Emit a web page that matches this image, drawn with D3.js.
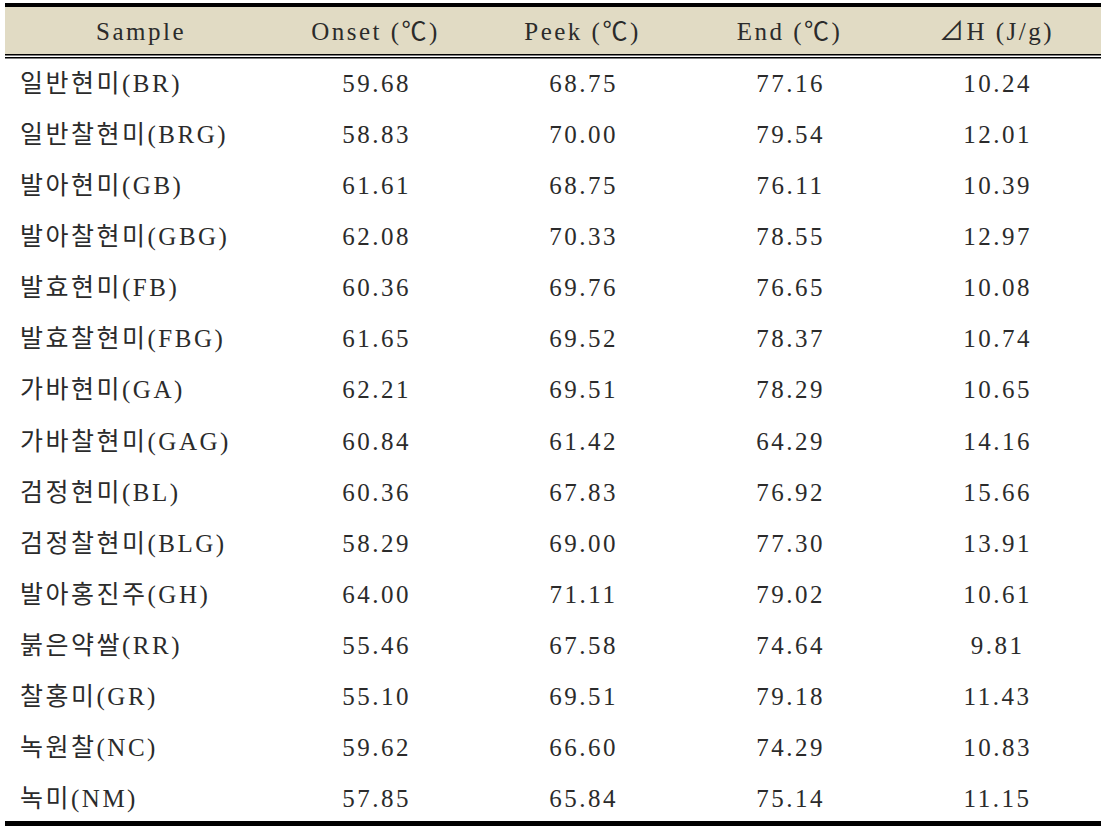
<!DOCTYPE html>
<html>
<head>
<meta charset="utf-8">
<script src="https://cdn.jsdelivr.net/npm/d3@7"></script>
<style>
  body { margin: 0; background: #fff; }
  text { font-family: "Liberation Serif", "Noto Sans CJK KR", serif; fill: #2b2b2b; white-space: pre; letter-spacing: 2.5px; }
</style>
</head>
<body>
<svg></svg>
<script>
const samples = ["일반현미(BR)", "일반찰현미(BRG)", "발아현미(GB)", "발아찰현미(GBG)", "발효현미(FB)",
  "발효찰현미(FBG)", "가바현미(GA)", "가바찰현미(GAG)", "검정현미(BL)", "검정찰현미(BLG)",
  "발아홍진주(GH)", "붉은약쌀(RR)", "찰홍미(GR)", "녹원찰(NC)", "녹미(NM)"];
const onset = [59.68, 58.83, 61.61, 62.08, 60.36, 61.65, 62.21, 60.84, 60.36, 58.29, 64.00, 55.46, 55.10, 59.62, 57.85];
const peek = [68.75, 70.00, 68.75, 70.33, 69.76, 69.52, 69.51, 61.42, 67.83, 69.00, 71.11, 67.58, 69.51, 66.60, 65.84];
const end = [77.16, 79.54, 76.11, 78.55, 76.65, 78.37, 78.29, 64.29, 76.92, 77.30, 79.02, 74.64, 79.18, 74.29, 75.14];
const deltaH = [10.24, 12.01, 10.39, 12.97, 10.08, 10.74, 10.65, 14.16, 15.66, 13.91, 10.61, 9.81, 11.43, 10.83, 11.15];
const headers = ["Onset (℃)", "Peek (℃)", "End (℃)", "⊿H (J/g)"];

const width = 1108, height = 831;
const left = 5, right = 1101;
const fmt = d3.format(".2f");

const svg = d3.select("svg").attr("width", width).attr("height", height);

// row and column scales
const y = d3.scaleBand().domain(d3.range(samples.length)).range([58, 824]);
const x = d3.scaleBand().domain(d3.range(headers.length)).range([272, 1100]);

// header background
svg.append("rect")
  .attr("x", left).attr("y", 7)
  .attr("width", right - left).attr("height", 47)
  .attr("fill", "#e1dbc4");

// rules
svg.append("line").attr("x1", left).attr("x2", right).attr("y1", 5).attr("y2", 5)
  .attr("stroke", "#000").attr("stroke-width", 4);
svg.append("line").attr("x1", left).attr("x2", right).attr("y1", 54.8).attr("y2", 54.8)
  .attr("stroke", "#000").attr("stroke-width", 1.4);
svg.append("line").attr("x1", left).attr("x2", right).attr("y1", 57.8).attr("y2", 57.8)
  .attr("stroke", "#000").attr("stroke-width", 1.4);
svg.append("line").attr("x1", left).attr("x2", right).attr("y1", 823.5).attr("y2", 823.5)
  .attr("stroke", "#000").attr("stroke-width", 5);

// header texts
svg.append("text")
  .attr("x", 141).attr("y", 31)
  .attr("text-anchor", "middle").attr("dominant-baseline", "central")
  .attr("font-size", 25)
  .text("Sample");

svg.selectAll(".head")
  .data(headers)
  .enter()
  .append("text")
  .attr("class", "head")
  .attr("x", (d, i) => x(i) + x.bandwidth() / 2)
  .attr("y", 31)
  .attr("text-anchor", "middle")
  .attr("dominant-baseline", "central")
  .attr("font-size", 25)
  .text(d => d);

// body
const rows = samples.map((s, i) => ({ name: s, vals: [onset[i], peek[i], end[i], deltaH[i]] }));

const row = svg.selectAll(".row")
  .data(rows)
  .enter()
  .append("g")
  .attr("class", "row")
  .attr("transform", (d, i) => "translate(0," + (y(i) + y.bandwidth() / 2) + ")");

row.append("text")
  .attr("x", 20)
  .attr("dominant-baseline", "central")
  .attr("font-size", 25)
  .text(d => d.name);

row.selectAll(".val")
  .data(d => d.vals)
  .enter()
  .append("text")
  .attr("class", "val")
  .attr("x", (d, i) => x(i) + x.bandwidth() / 2 + 1)
  .attr("text-anchor", "middle")
  .attr("dominant-baseline", "central")
  .attr("font-size", 25)
  .text(d => fmt(d));
</script>
</body>
</html>
